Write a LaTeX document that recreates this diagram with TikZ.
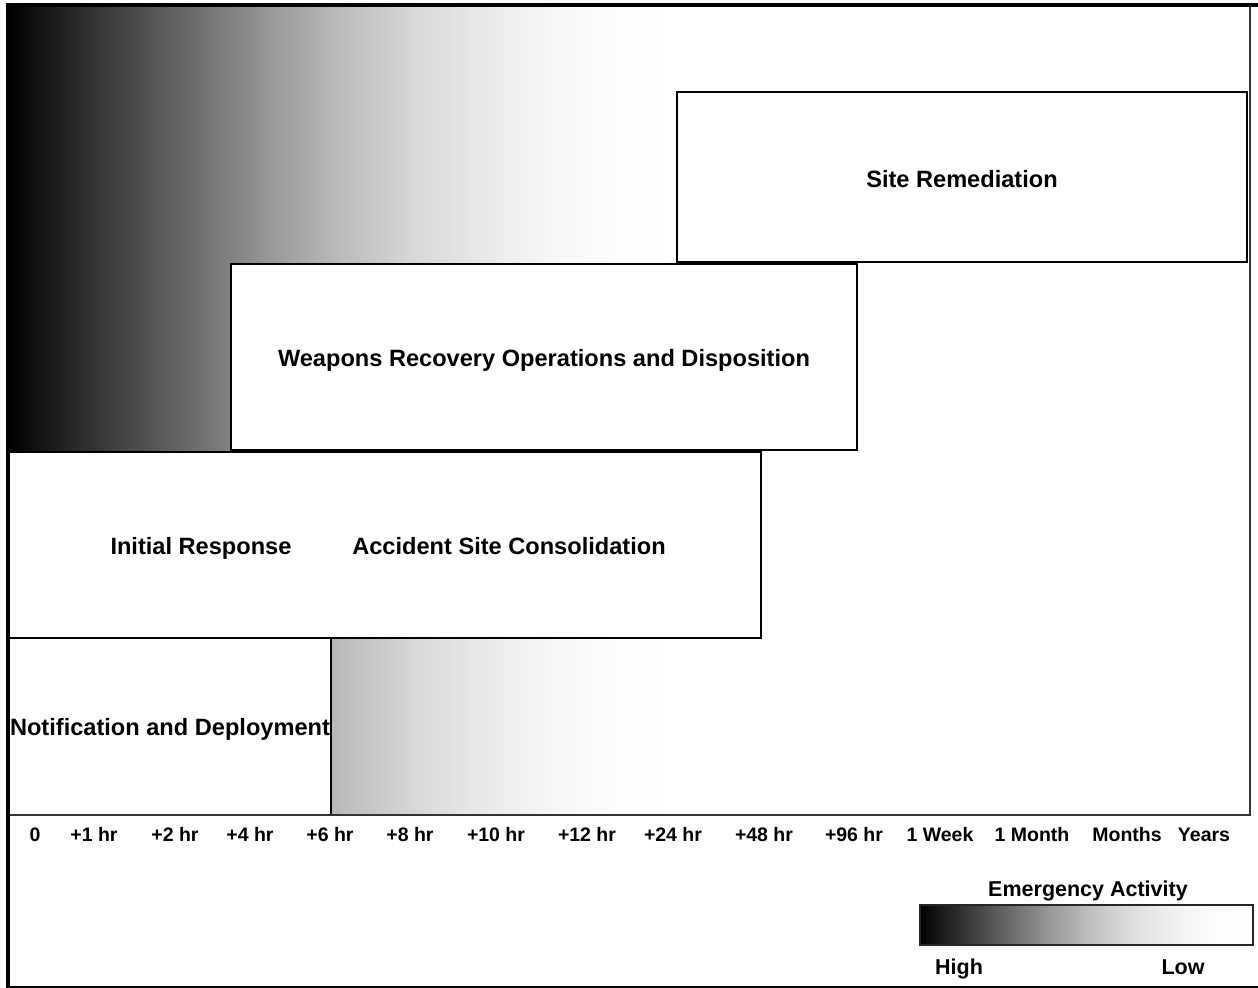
\documentclass[tikz,border=0pt]{standalone}
\usepackage{fontspec}
\setmainfont{Liberation Sans}
% grey ramp: dark (high activity) on the left, fading to white on the right;
% TikZ fits the path to the 25bp..75bp band of the shading
\pgfdeclarehorizontalshading{activity}{100bp}{color(0bp)=(black); color(25bp)=(black); color(30bp)=(black!84); color(35bp)=(black!69); color(40bp)=(black!54); color(45bp)=(black!39); color(50bp)=(black!26); color(55bp)=(black!16); color(60bp)=(black!9); color(65bp)=(black!4); color(70bp)=(black!1); color(75bp)=(white); color(100bp)=(white)}

\begin{document}
\begin{tikzpicture}[x=1bp,y=-1bp,
  phase/.style={draw=black, line width=1.5bp, fill=white, inner sep=0pt},
  phasetext/.style={inner sep=0pt, text height=17bp, text depth=0pt,
    font=\fontsize{23.6bp}{28bp}\selectfont\bfseries},
  ticklabel/.style={inner sep=0pt, anchor=base, font=\fontsize{19.5bp}{23bp}\selectfont\bfseries},
  legendtext/.style={inner sep=0pt, text height=15.4bp, text depth=0pt,
    font=\fontsize{21.5bp}{25bp}\selectfont\bfseries},
  frame/.style={line width=2bp, black!80}]
\useasboundingbox (0,0) rectangle (1258,988);
\fill[white] (0,0) rectangle (1258,988);

% activity background behind the phases
\shade[shading=activity] (8,5) rectangle (680,815);

% phase boxes
\node[phase, minimum width=570bp, minimum height=170bp] (remed) at (962,177) {};
\node[phase, minimum width=626bp, minimum height=186bp] (weapons) at (544,357) {};
\node[phase, minimum width=753bp, minimum height=186bp] (initial) at (384.5,545) {};
\node[phase, minimum width=323bp, minimum height=177bp] (notify) at (169.5,726.5) {};

% phase names
\node[phasetext] (remedtext) at (962,179) {Site Remediation};
\node[phasetext] (weaponstext) at (544,358) {Weapons Recovery Operations and Disposition};
\node[phasetext] (irtext) at (201,546) {Initial Response};
\node[phasetext] (asctext) at (509,546) {Accident Site Consolidation};
\node[phasetext] (notifytext) at (170,727) {Notification and Deployment};

% chart frame
\draw[frame] (1249.5,5) -- (1249.5,815) -- (8,815);

% time axis labels
\foreach \x/\t [count=\i] in {35/0, 94/+1 hr, 175/+2 hr, 250/+4 hr, 330/+6 hr, 410/+8 hr, 496/+10 hr, 587/+12 hr, 673/+24 hr, 764/+48 hr, 854/+96 hr, 940/1 Week, 1032/1 Month, 1127/Months, 1204/Years}
  \node[ticklabel] (tick\i) at (\x,841) {\t};

% legend
\node[legendtext] (legtitle) at (1088,889) {Emergency Activity};
\node[shade, shading=activity, draw=black!85, line width=1.5bp, minimum width=333bp, minimum height=40bp, inner sep=0pt] (scale) at (1086.5,925) {};
\node[legendtext] (high) at (959,967) {High};
\node[legendtext] (low) at (1183,967) {Low};

% outer border
\draw[line width=4bp] (6,5) -- (1258,5);
\draw[line width=3.5bp] (8,3) -- (8,988);
\draw[line width=2bp] (7,987) -- (1258,987);
\end{tikzpicture}
\end{document}
